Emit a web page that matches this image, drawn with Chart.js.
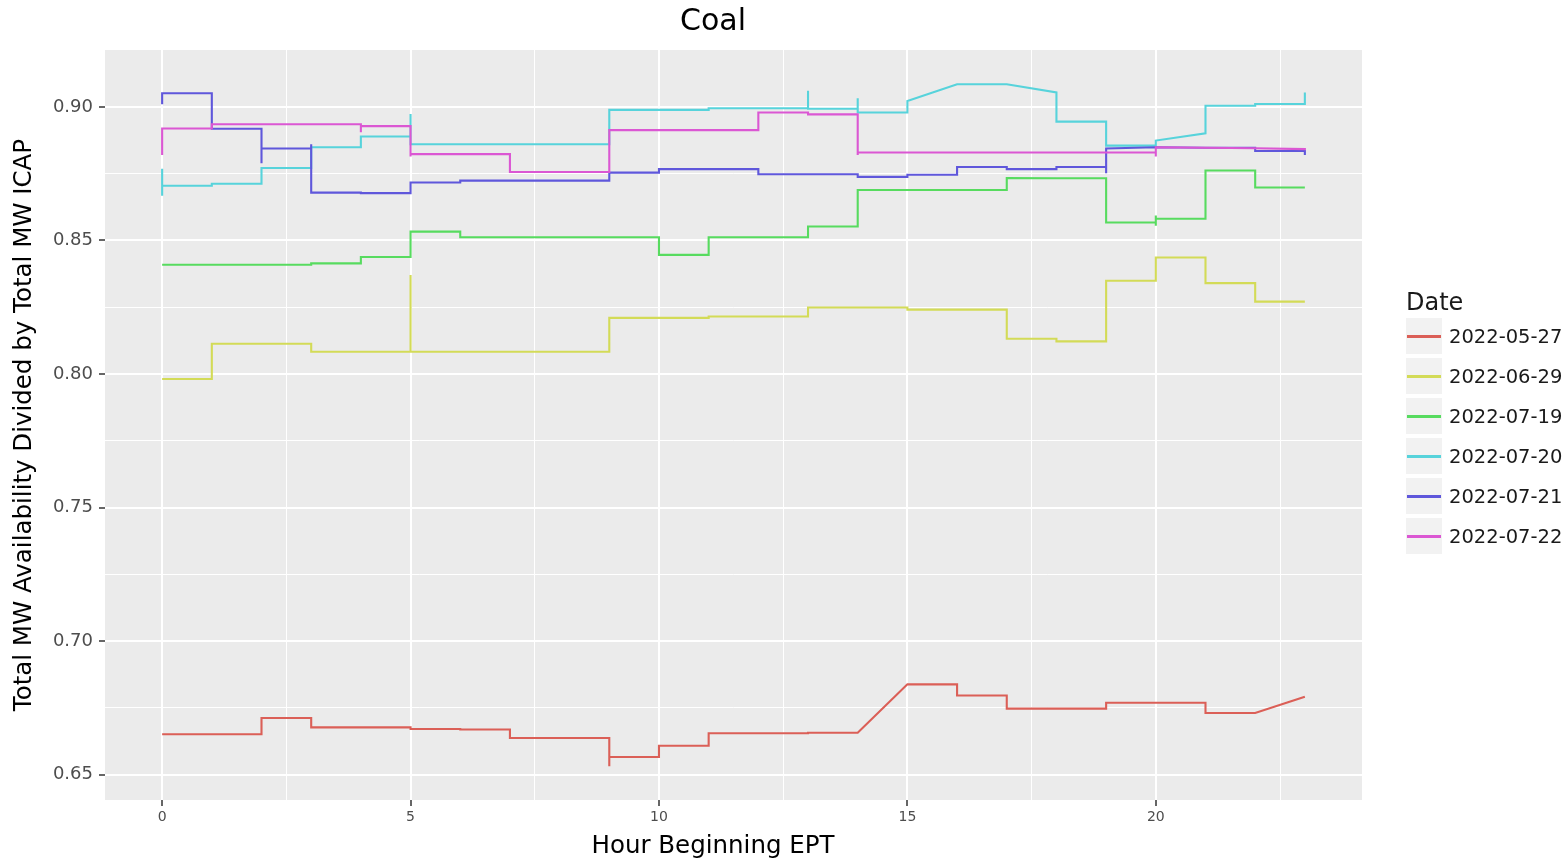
<!DOCTYPE html>
<html>
<head>
<meta charset="utf-8">
<title>Coal</title>
<script src="https://cdn.jsdelivr.net/npm/chart.js@4.4.1/dist/chart.umd.min.js"></script>
<style>
  body { margin: 0; background: #fff; font-family: "DejaVu Sans", sans-serif; }
  #wrap { position: relative; width: 1565px; height: 862px; }
  #title { position: absolute; left: 513px; width: 400px; top: 0; line-height: 40px; font-size: 30px; text-align: center; color: #000; }
  #xtitle { position: absolute; left: 413px; width: 600px; top: 830px; line-height: 30px; font-size: 24.5px; text-align: center; color: #000; }
  #legend { position: absolute; left: 1406px; top: 288px; color: #1a1a1a; }
  #legend .ttl { font-size: 24px; height: 28px; line-height: 28px; }
  #legend .row { display: flex; align-items: center; height: 40px; }
  #legend .key { width: 36px; height: 36px; background: #f2f2f2; position: relative; }
  #legend .key span { position: absolute; left: 1px; right: 1px; top: 17px; height: 2.5px; }
  #legend .lbl { font-size: 19.5px; margin-left: 7px; }
</style>
</head>
<body>
<div id="wrap">
  <canvas id="myChart" width="1565" height="862"></canvas>
  <div id="title">Coal</div>
  <div id="xtitle">Hour Beginning EPT</div>
  <div id="legend"><div class="ttl">Date</div></div>
</div>
<script>
// Kategori jam dan tanggal
const hours = [0, 1, 2, 3, 4, 5, 6, 7, 8, 9, 10, 11, 12, 13, 14, 15, 16, 17, 18, 19, 20, 21, 22, 23];
const dates = ['2022-05-27', '2022-06-29', '2022-07-19', '2022-07-20', '2022-07-21', '2022-07-22'];
const colors = ['#db5f57', '#d3db57', '#57db5f', '#57d3db', '#5f57db', '#db57d3'];

// Nilai per jam (beberapa bacaan dalam satu jam)
const may27 = [[0.6651], [0.6651], [0.6651, 0.6712], [0.6712, 0.6677], [0.6677], [0.6677, 0.6671],
    [0.6671, 0.6669], [0.6669, 0.6637], [0.6637], [0.6637, 0.6531, 0.6566], [0.6566, 0.6608], [0.6608, 0.6655],
    [0.6655], [0.6655, 0.6657], [0.6657], [0.6838], [0.6838, 0.6796], [0.6796, 0.6747],
    [0.6747], [0.6747, 0.6769], [0.6769], [0.6769, 0.6731], [0.6731], [0.6792]];
const jun29 = [[0.7981], [0.7981, 0.8113], [0.8113], [0.8113, 0.8083], [0.8083], [0.8083, 0.8371, 0.8083],
    [0.8083], [0.8083], [0.8083], [0.8083, 0.8210], [0.8210], [0.8210, 0.8215],
    [0.8215], [0.8215, 0.8249], [0.8249], [0.8249, 0.8241], [0.8241], [0.8241, 0.8132],
    [0.8132, 0.8122], [0.8122, 0.8349], [0.8349, 0.8436], [0.8436, 0.8340], [0.8340, 0.8271], [0.8271]];
const jul19 = [[0.8409], [0.8409], [0.8409], [0.8409, 0.8414], [0.8414, 0.8438], [0.8438, 0.8533],
    [0.8533, 0.8512], [0.8512], [0.8512], [0.8512], [0.8512, 0.8446], [0.8446, 0.8512],
    [0.8512], [0.8512, 0.8552], [0.8552, 0.8689], [0.8689], [0.8689], [0.8689, 0.8734],
    [0.8733], [0.8733, 0.8567], [0.8567, 0.8555, 0.8593, 0.8581], [0.8581, 0.8762], [0.8762, 0.8698], [0.8698]];
const jul20 = [[0.8768, 0.8667, 0.8705], [0.8705, 0.8712], [0.8712, 0.8771], [0.8771, 0.8849], [0.8849, 0.8889], [0.8889, 0.8973, 0.8860],
    [0.8860], [0.8860], [0.8860], [0.8860, 0.8989], [0.8989], [0.8989, 0.8995],
    [0.8995], [0.8995, 0.9060, 0.8993], [0.8993, 0.9032, 0.8979], [0.8979, 0.9022], [0.9085], [0.9085],
    [0.9054, 0.8945], [0.8945, 0.8855], [0.8855, 0.8874], [0.8901, 0.9004], [0.9004, 0.9011], [0.9011, 0.9054]];
const jul21 = [[0.9010, 0.9051], [0.9051, 0.8918], [0.8918, 0.8789, 0.8844], [0.8844, 0.8860, 0.8679], [0.8679, 0.8677], [0.8677, 0.8717],
    [0.8717, 0.8724], [0.8724], [0.8724], [0.8724, 0.8754], [0.8754, 0.8767], [0.8767],
    [0.8767, 0.8745, 0.8748], [0.8748], [0.8748, 0.8738], [0.8738, 0.8746], [0.8746, 0.8775], [0.8775, 0.8767],
    [0.8767, 0.8775], [0.8775, 0.8752, 0.8844], [0.8849], [0.8847], [0.8847, 0.8835], [0.8835, 0.8820]];
const jul22 = [[0.8820, 0.8919], [0.8919, 0.8935], [0.8935], [0.8935], [0.8935, 0.8905, 0.8928], [0.8928, 0.8814, 0.8823],
    [0.8823], [0.8823, 0.8756], [0.8756], [0.8756, 0.8913], [0.8913], [0.8913],
    [0.8913, 0.8979], [0.8979, 0.8972], [0.8972, 0.8820, 0.8829], [0.8829], [0.8829], [0.8829],
    [0.8829], [0.8829], [0.8829, 0.8814, 0.8849], [0.8847], [0.8845], [0.8842, 0.8838]];
const series = [may27, jun29, jul19, jul20, jul21, jul22];

// Tick sumbu
const xMajor = [0, 5, 10, 15, 20];
const xMinor = [2.5, 7.5, 12.5, 17.5, 22.5];
const yMajor = [0.65, 0.70, 0.75, 0.80, 0.85, 0.90];
const yMinor = [0.675, 0.725, 0.775, 0.825, 0.875];

function toPoints(perHour) {
    const pts = [];
    perHour.forEach((vals, i) => vals.forEach(v => pts.push({ x: hours[i], y: v })));
    return pts;
}

const datasets = series.map((s, i) => ({
    label: dates[i],
    data: toPoints(s),
    borderColor: colors[i],
    borderWidth: 2.1,
    pointRadius: 0,
    tension: 0,
    fill: false,
    order: series.length - i
}));

// Latar panel abu-abu ala ggplot
const panelBg = {
    id: 'panelBg',
    beforeDraw(chart) {
        const { ctx, chartArea: a } = chart;
        ctx.save();
        ctx.fillStyle = '#ebebeb';
        ctx.fillRect(a.left, a.top, a.right - a.left, a.bottom - a.top);
        ctx.restore();
    }
};

const isMajor = (list, v) => list.some(m => Math.abs(m - v) < 1e-9);

const ctx = document.getElementById('myChart').getContext('2d');
const myChart = new Chart(ctx, {
    type: 'line',
    data: { datasets: datasets },
    plugins: [panelBg],
    options: {
        responsive: false,
        animation: false,
        devicePixelRatio: 1,
        layout: { padding: { left: 0, top: 50, right: 203, bottom: 0 } },
        plugins: {
            legend: { display: false },
            tooltip: { enabled: false },
            title: { display: false }
        },
        scales: {
            x: {
                type: 'linear',
                min: -1.15,
                max: 24.15,
                afterBuildTicks: scale => {
                    scale.ticks = xMajor.concat(xMinor).sort((a, b) => a - b).map(v => ({ value: v }));
                },
                afterFit: scale => { scale.height = 62; },
                border: { display: false },
                grid: {
                    color: '#ffffff',
                    lineWidth: c => isMajor(xMajor, c.tick.value) ? 2 : 1,
                    tickColor: c => isMajor(xMajor, c.tick.value) ? '#333333' : 'rgba(0,0,0,0)',
                    tickLength: 6,
                    tickWidth: 1.5
                },
                ticks: {
                    autoSkip: false,
                    maxRotation: 0,
                    padding: 3,
                    color: '#4d4d4d',
                    font: { family: 'DejaVu Sans', size: 14 },
                    callback: v => isMajor(xMajor, v) ? String(v) : ''
                },
                title: { display: false }
            },
            y: {
                type: 'linear',
                min: 0.6405,
                max: 0.9213,
                afterBuildTicks: scale => {
                    scale.ticks = yMajor.concat(yMinor).sort((a, b) => a - b).map(v => ({ value: v }));
                },
                afterFit: scale => { scale.width = 105; },
                border: { display: false },
                grid: {
                    color: '#ffffff',
                    lineWidth: c => isMajor(yMajor, c.tick.value) ? 2 : 1,
                    tickColor: c => isMajor(yMajor, c.tick.value) ? '#333333' : 'rgba(0,0,0,0)',
                    tickLength: 6,
                    tickWidth: 1.5
                },
                ticks: {
                    autoSkip: false,
                    padding: 6,
                    color: '#4d4d4d',
                    font: { family: 'DejaVu Sans', size: 18 },
                    callback: v => isMajor(yMajor, v) ? v.toFixed(2) : ''
                },
                title: {
                    display: true,
                    text: 'Total MW Availability Divided by Total MW ICAP',
                    color: '#000',
                    font: { family: 'DejaVu Sans', size: 24.5 },
                    padding: { top: 10, bottom: 0 }
                }
            }
        }
    }
});

// Legenda HTML
const legend = document.getElementById('legend');
dates.forEach((d, i) => {
    const row = document.createElement('div');
    row.className = 'row';
    row.innerHTML = `<div class="key"><span style="background:${colors[i]}"></span></div><div class="lbl">${d}</div>`;
    legend.appendChild(row);
});
</script>
</body>
</html>
